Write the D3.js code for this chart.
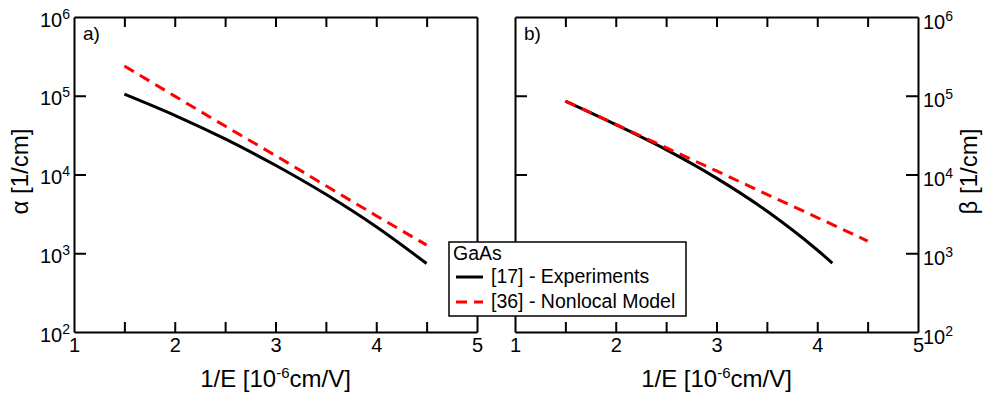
<!DOCTYPE html>
<html>
<head>
<meta charset="utf-8">
<script src="https://cdn.jsdelivr.net/npm/d3@7"></script>
<style>
    body { margin: 0; background: #fff; }
    svg text { font-family: "Liberation Sans", Arial, sans-serif; fill: #000; }
</style>
</head>
<body>
<div id="chart"></div>
<script>
// 1/E in 10^-6 cm/V
const xValues = [1.5, 2.0, 2.5, 3.0, 3.5, 4.0, 4.5];
// a) electron ionization coefficient alpha [1/cm]
const alphaExperiment = [1.05e5, 5.65e4, 2.83e4, 1.31e4, 5.6e3, 2.17e3, 7.4e2];
const alphaModel = [2.39e5, 9.9e4, 4.12e4, 1.74e4, 7.2e3, 3.0e3, 1.27e3];
// b) hole ionization coefficient beta [1/cm]
const betaExperimentX = [1.5, 2.0, 2.5, 3.0, 3.5, 4.0, 4.15];
const betaExperiment = [8.57e4, 4.31e4, 2.07e4, 9.0e3, 3.44e3, 1.10e3, 7.5e2];
const betaModel = [8.57e4, 4.34e4, 2.19e4, 1.11e4, 5.6e3, 2.84e3, 1.43e3];

const xTicks = [1, 1.5, 2, 2.5, 3, 3.5, 4, 4.5, 5];
const yTicks = [1e2, 1e3, 1e4, 1e5, 1e6];
const legendTitle = "GaAs";
const seriesNames = ["[17] - Experiments", "[36] - Nonlocal Model"];

const svg = d3.select("#chart").append("svg")
    .attr("width", 985)
    .attr("height", 396);

function powerLabel(text, dy) {
    text.each(function (d) {
        let t = d3.select(this).text(null).attr("dy", dy);
        t.append("tspan").text("10");
        t.append("tspan").attr("dy", -8).attr("font-size", 14).text(Math.round(Math.log10(d)));
    });
}

class Panel {
    constructor(left, opts) {
        this.left = left;
        this.opts = opts;
        this.initVis();
    }

    initVis() {
        let vis = this;
        vis.width = 403;
        vis.height = 315;

        vis.g = svg.append("g").attr("transform", `translate(${vis.left}, 17)`);

        vis.x = d3.scaleLinear().domain([1, 5]).range([0, vis.width]);
        vis.y = d3.scaleLog().domain([1e2, 1e6]).range([vis.height, 0]);

        // bottom + top
        let bottom = vis.g.append("g").attr("transform", `translate(0, ${vis.height})`)
            .call(d3.axisBottom(vis.x).tickValues(xTicks).tickSizeInner(-10).tickSizeOuter(0).tickPadding(6)
                .tickFormat(d => Number.isInteger(d) ? d : ""));
        vis.g.append("g")
            .call(d3.axisTop(vis.x).tickValues(xTicks.slice(1, -1)).tickSizeInner(-10).tickSizeOuter(0).tickFormat(""));

        // left + right
        let leftAxis = vis.g.append("g")
            .call(d3.axisLeft(vis.y).tickValues(yTicks.slice(1, -1).concat(vis.opts.labelsLeft ? [1e2, 1e6] : []))
                .tickSizeInner(-12).tickSizeOuter(0).tickPadding(4));
        let rightAxis = vis.g.append("g").attr("transform", `translate(${vis.width}, 0)`)
            .call(d3.axisRight(vis.y).tickValues(vis.opts.labelsLeft ? [] : yTicks)
                .tickSizeInner(-12).tickSizeOuter(0).tickPadding(5));

        if (vis.opts.labelsLeft) {
            powerLabel(leftAxis.selectAll(".tick text"), 9);
        } else {
            leftAxis.selectAll(".tick text").remove();
            powerLabel(rightAxis.selectAll(".tick text"), 11);
        }
        // end ticks coincide with the frame
        leftAxis.selectAll(".tick").filter(d => d === 1e2 || d === 1e6).select("line").remove();
        rightAxis.selectAll(".tick").filter(d => d === 1e2 || d === 1e6).select("line").remove();

        vis.g.selectAll(".domain, .tick line").attr("stroke", "#000").attr("stroke-width", 2);
        vis.g.selectAll(".tick text").attr("font-size", 20).attr("font-family", null);
        bottom.selectAll(".tick").filter(d => d === 1 || d === 5).select("line").remove();

        // x axis label
        let xl = vis.g.append("text")
            .attr("x", vis.width / 2)
            .attr("y", 370)
            .attr("text-anchor", "middle")
            .attr("font-size", 24);
        xl.append("tspan").text("1/E [10");
        xl.append("tspan").attr("dy", -9).attr("font-size", 15).text("-6");
        xl.append("tspan").attr("dy", 9).text("cm/V]");

        // y axis label
        vis.g.append("text")
            .attr("transform", `translate(${vis.opts.yLabelX}, ${vis.height / 2 - 3}) rotate(-90)`)
            .attr("text-anchor", "middle")
            .attr("font-size", 24)
            .text(vis.opts.yLabel);

        vis.g.append("text")
            .attr("x", 9)
            .attr("y", 23)
            .attr("font-size", 19)
            .text(vis.opts.tag);

        vis.updateVis();
    }

    updateVis() {
        let vis = this;
        let line = d3.line()
            .x(d => vis.x(d[0]))
            .y(d => vis.y(d[1]))
            .curve(d3.curveMonotoneX);

        vis.g.append("path")
            .datum(d3.zip(vis.opts.expX, vis.opts.exp))
            .attr("fill", "none")
            .attr("stroke", "#000")
            .attr("stroke-width", 3)
            .attr("d", line);

        vis.g.append("path")
            .datum(d3.zip(xValues, vis.opts.model))
            .attr("fill", "none")
            .attr("stroke", "#ff0000")
            .attr("stroke-width", 3)
            .attr("stroke-dasharray", "11,7")
            .attr("d", line);
    }
}

new Panel(74, {labelsLeft: true, yLabel: "α [1/cm]", yLabelX: -46, tag: "a)",
    expX: xValues, exp: alphaExperiment, model: alphaModel});
new Panel(515, {labelsLeft: false, yLabel: "β [1/cm]", yLabelX: 462, tag: "b)",
    expX: betaExperimentX, exp: betaExperiment, model: betaModel});

// Legend
let legend = svg.append("g").attr("transform", "translate(449, 242)");
legend.append("rect")
    .attr("width", 237)
    .attr("height", 74)
    .attr("fill", "#fff")
    .attr("stroke", "#000")
    .attr("stroke-width", 1.5);
legend.append("text")
    .attr("x", 4)
    .attr("y", 18)
    .attr("font-size", 19.5)
    .text(legendTitle);
seriesNames.forEach((name, i) => {
    let yy = 35 + i * 25;
    legend.append("line")
        .attr("x1", 7).attr("x2", 34)
        .attr("y1", yy).attr("y2", yy)
        .attr("stroke", i === 0 ? "#000" : "#ff0000")
        .attr("stroke-width", 3)
        .attr("stroke-dasharray", i === 0 ? null : "11,7");
    legend.append("text")
        .attr("x", 42)
        .attr("y", yy + 6)
        .attr("font-size", 19.5)
        .text(name);
});
</script>
</body>
</html>
